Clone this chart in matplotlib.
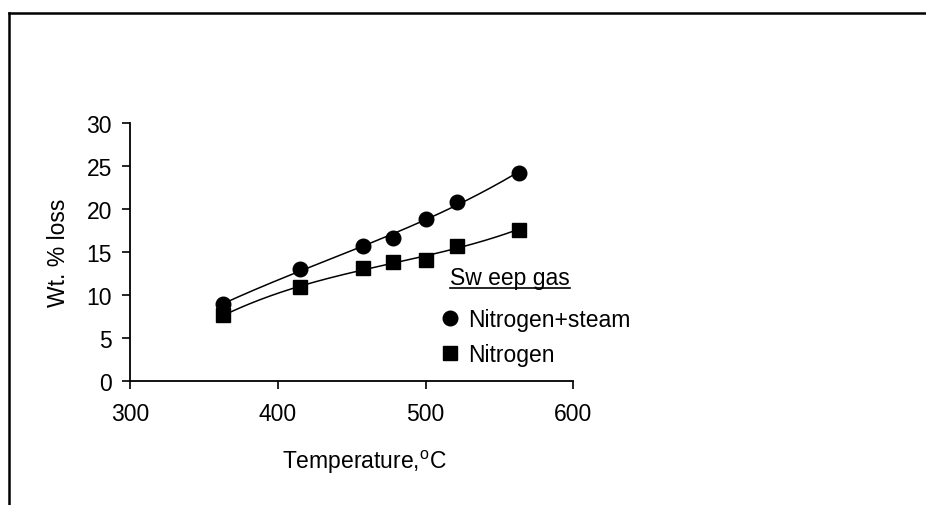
import numpy as np
import matplotlib.pyplot as plt
from matplotlib.lines import Line2D

plt.rcParams['font.family'] = ['Liberation Sans', 'DejaVu Sans']
plt.rcParams['mathtext.fontset'] = 'custom'
plt.rcParams['mathtext.rm'] = 'Liberation Sans'

# data
temp = [363, 415, 458, 478, 500, 521, 563]
loss_steam = [8.9, 13.0, 15.7, 16.6, 18.8, 20.8, 24.2]
loss_nitrogen = [7.6, 10.9, 13.1, 13.8, 14.05, 15.7, 17.6]

x_ticks = [300, 400, 500, 600]
y_ticks = [0, 5, 10, 15, 20, 25, 30]

FS = 16.5
W, H = 926, 506

fig = plt.figure(figsize=(9.26, 5.06), dpi=100)
ax = fig.add_axes([130 / W, 1 - 381.7 / H, 443.3 / W, 257.7 / H])

# polynomial trendlines, like the spreadsheet ones
xs = np.linspace(min(temp), max(temp), 200)
for ys in (loss_steam, loss_nitrogen):
    coef = np.polyfit(temp, ys, 3)
    ax.plot(xs, np.polyval(coef, xs), color='black', lw=1.1)

ax.plot(temp, loss_steam, 'o', color='black', ms=10.5, label='Nitrogen+steam')
ax.plot(temp, loss_nitrogen, 's', color='black', ms=9.5, label='Nitrogen')

ax.set_xlim(300, 600)
ax.set_ylim(0, 30)
ax.set_xticks(x_ticks)
ax.set_yticks(y_ticks)
ax.tick_params(labelsize=FS, width=1.2, length=6, color='black')
ax.tick_params(axis='x', pad=9)
ax.tick_params(axis='y', pad=7)
for s in ('top', 'right'):
    ax.spines[s].set_visible(False)
for s in ('left', 'bottom'):
    ax.spines[s].set_linewidth(1.3)

ax.set_xlabel('Temperature,$^{\\mathrm{o}}$C', fontsize=FS, labelpad=18)
ax.xaxis.set_label_coords((364 - 130) / 443.3, -(462 - 381.7) / 257.7)
ax.xaxis.label.set_va('center')
ax.set_ylabel('Wt. % loss', fontsize=FS, labelpad=12)

leg = ax.legend(loc='upper left', bbox_to_anchor=(434 / W, 1 - 300 / H),
                bbox_transform=fig.transFigure, frameon=False, fontsize=FS,
                handlelength=0.6, handletextpad=0.5, labelspacing=0.52,
                borderaxespad=0)

# legend title with underline
title = fig.text(450 / W, 1 - 278 / H, 'Sw eep gas', fontsize=FS,
                 ha='left', va='center')
fig.canvas.draw()
bb = title.get_window_extent()
fig.add_artist(Line2D([bb.x0, bb.x1], [bb.y0 + 1, bb.y0 + 1], color='black',
                      lw=1.2, transform=None))

# chart area border (top and left edges visible)
fig.add_artist(Line2D([9 / W, 1], [1 - 13.5 / H, 1 - 13.5 / H], color='black',
                      lw=1.8, transform=fig.transFigure))
fig.add_artist(Line2D([9 / W, 9 / W], [0, 1 - 13.5 / H], color='black',
                      lw=1.8, transform=fig.transFigure))

fig.savefig('out.png', dpi=100)
